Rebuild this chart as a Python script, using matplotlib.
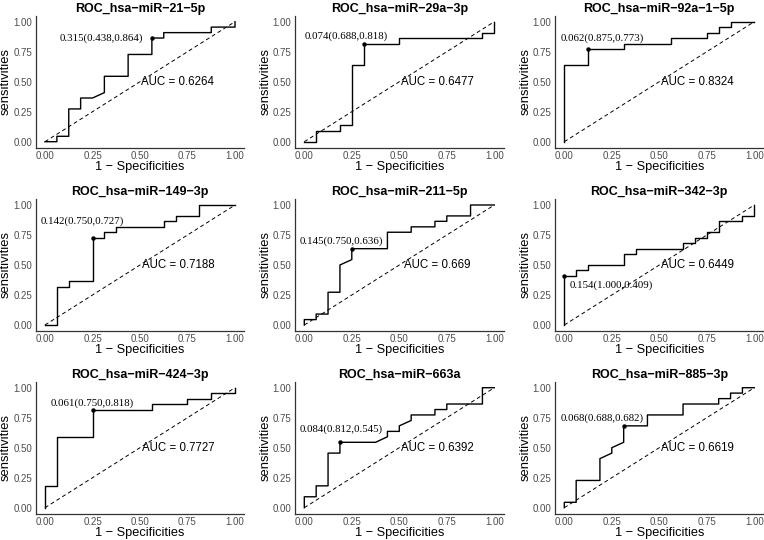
import matplotlib
matplotlib.use("Agg")
import matplotlib.pyplot as plt

plt.rcParams['font.family'] = ['Liberation Sans', 'DejaVu Sans']

titles = ["ROC_hsa−miR−21−5p", "ROC_hsa−miR−29a−3p", "ROC_hsa−miR−92a−1−5p",
          "ROC_hsa−miR−149−3p", "ROC_hsa−miR−211−5p", "ROC_hsa−miR−342−3p",
          "ROC_hsa−miR−424−3p", "ROC_hsa−miR−663a", "ROC_hsa−miR−885−3p"]
auc_text = ["0.6264", "0.6477", "0.8324", "0.7188", "0.669", "0.6449",
            "0.7727", "0.6392", "0.6619"]

# best threshold, specificity, sensitivity
thresholds = [0.315, 0.074, 0.062, 0.142, 0.145, 0.154, 0.061, 0.084, 0.068]
best_spec = [0.438, 0.688, 0.875, 0.750, 0.750, 1.000, 0.750, 0.812, 0.688]
best_sens = [0.864, 0.818, 0.773, 0.727, 0.636, 0.409, 0.818, 0.545, 0.682]

# ROC curves (1 - specificity, sensitivity)
fpr_21 = [0, 0.0625, 0.0625, 0.125, 0.125, 0.1875, 0.1875, 0.25, 0.3125, 0.3125,
          0.4375, 0.4375, 0.5625, 0.5625, 0.625, 0.625, 0.875, 0.875, 1, 1]
tpr_21 = [0, 0, 0.045, 0.045, 0.273, 0.273, 0.364, 0.364, 0.409, 0.545,
          0.545, 0.727, 0.727, 0.864, 0.864, 0.909, 0.909, 0.955, 0.955, 1]

fpr_29a = [0, 0.0625, 0.0625, 0.1875, 0.1875, 0.25, 0.25, 0.3125, 0.3125,
           0.5, 0.5, 0.9375, 0.9375, 1, 1]
tpr_29a = [0, 0, 0.091, 0.091, 0.136, 0.136, 0.636, 0.636, 0.818,
           0.818, 0.864, 0.864, 0.909, 0.909, 1]

fpr_92a = [0, 0, 0.125, 0.125, 0.3125, 0.3125, 0.5625, 0.5625, 0.75, 0.75,
           0.8125, 0.8125, 0.875, 0.875, 1]
tpr_92a = [0, 0.636, 0.636, 0.773, 0.773, 0.818, 0.818, 0.864, 0.864, 0.909,
           0.909, 0.955, 0.955, 1, 1]

fpr_149 = [0, 0.0625, 0.0625, 0.125, 0.125, 0.25, 0.25, 0.3125, 0.3125, 0.375,
           0.375, 0.625, 0.625, 0.6875, 0.6875, 0.8125, 0.8125, 1]
tpr_149 = [0, 0, 0.318, 0.318, 0.364, 0.364, 0.727, 0.727, 0.773, 0.773,
           0.818, 0.818, 0.864, 0.864, 0.909, 0.909, 1, 1]

fpr_211 = [0, 0, 0.0625, 0.0625, 0.125, 0.125, 0.1875, 0.1875, 0.25, 0.25, 0.4375,
           0.4375, 0.5625, 0.5625, 0.6875, 0.6875, 0.75, 0.75, 0.875, 0.875, 1]
tpr_211 = [0, 0.045, 0.045, 0.091, 0.091, 0.273, 0.273, 0.5, 0.545, 0.636, 0.636,
           0.773, 0.773, 0.818, 0.818, 0.864, 0.864, 0.909, 0.909, 1, 1]

fpr_342 = [0, 0, 0.0625, 0.0625, 0.125, 0.125, 0.3125, 0.3125, 0.375, 0.375, 0.625,
           0.625, 0.6875, 0.6875, 0.75, 0.75, 0.8125, 0.8125, 0.9375, 0.9375, 1, 1]
tpr_342 = [0, 0.409, 0.409, 0.455, 0.455, 0.5, 0.5, 0.591, 0.591, 0.636, 0.636,
           0.682, 0.682, 0.727, 0.727, 0.773, 0.773, 0.864, 0.864, 0.909, 0.909, 1]

fpr_424 = [0, 0, 0.0625, 0.0625, 0.25, 0.25, 0.5625, 0.5625, 0.75, 0.75,
           0.875, 0.875, 1, 1]
tpr_424 = [0, 0.182, 0.182, 0.591, 0.591, 0.818, 0.818, 0.864, 0.864, 0.909,
           0.909, 0.955, 0.955, 1]

fpr_663 = [0, 0, 0.0625, 0.0625, 0.125, 0.125, 0.1875, 0.1875, 0.375, 0.4375, 0.4375,
           0.5, 0.5, 0.5625, 0.5625, 0.6875, 0.6875, 0.75, 0.75, 0.9375, 0.9375, 1]
tpr_663 = [0, 0.091, 0.091, 0.182, 0.182, 0.455, 0.455, 0.545, 0.545, 0.591, 0.636,
           0.636, 0.682, 0.727, 0.773, 0.773, 0.818, 0.818, 0.864, 0.864, 1, 1]

fpr_885 = [0, 0, 0.0625, 0.0625, 0.1875, 0.1875, 0.25, 0.25, 0.3125, 0.3125, 0.4375,
           0.4375, 0.625, 0.625, 0.8125, 0.8125, 0.875, 0.875, 0.9375, 0.9375, 1]
tpr_885 = [0, 0.045, 0.045, 0.227, 0.227, 0.409, 0.455, 0.5, 0.545, 0.682, 0.682,
           0.773, 0.773, 0.864, 0.864, 0.909, 0.909, 0.955, 0.955, 1, 1]

curves = [(fpr_21, tpr_21), (fpr_29a, tpr_29a), (fpr_92a, tpr_92a),
          (fpr_149, tpr_149), (fpr_211, tpr_211), (fpr_342, tpr_342),
          (fpr_424, tpr_424), (fpr_663, tpr_663), (fpr_885, tpr_885)]

# label offsets from the best point, in pixels
label_off = [(-50, 0), (-17, 7), (14, 11), (-10, 17), (-10, 7),
             (47, -9), (0, 6), (1, 13), (-21, 8)]

W, H = 764, 540
fig = plt.figure(figsize=(W / 100, H / 100), dpi=100)

lefts = [35.5, 294.8, 554.8]
tops = [15.7, 199, 381.7]
pw, ph = 209, 132

for i in range(9):
    r, c = divmod(i, 3)
    ax = fig.add_axes([lefts[c] / W, 1 - (tops[r] + ph) / H, pw / W, ph / H])
    fpr, tpr = curves[i]
    ax.plot([0, 1], [0, 1], color='black', lw=0.7, dashes=(4, 3))
    ax.plot(fpr, tpr, color='black', lw=1.0)
    px, py = 1 - best_spec[i], best_sens[i]
    ax.plot(px, py, 'o', color='black', ms=2.2)
    ax.annotate(f"{thresholds[i]:.3f}({best_spec[i]:.3f},{best_sens[i]:.3f})",
                (px, py), xytext=label_off[i], textcoords='offset pixels',
                ha='center', va='center', fontsize=7.8,
                family=['Liberation Serif', 'DejaVu Serif'])
    ax.text(0.7, 0.5, f"AUC = {auc_text[i]}", ha='center', va='center', fontsize=8.3)

    ax.set_xlim(-0.05, 1.05)
    ax.set_ylim(-0.05, 1.05)
    ax.set_xticks([0, 0.25, 0.5, 0.75, 1])
    ax.set_yticks([0, 0.25, 0.5, 0.75, 1])
    ax.set_xticklabels(["0.00", "0.25", "0.50", "0.75", "1.00"])
    ax.set_yticklabels(["0.00", "0.25", "0.50", "0.75", "1.00"])
    ax.tick_params(length=0, labelsize=7, labelcolor='#4D4D4D', pad=2.5)
    for s in ['top', 'right']:
        ax.spines[s].set_visible(False)
    for s in ['left', 'bottom']:
        ax.spines[s].set_color('#333333')
        ax.spines[s].set_linewidth(0.9)
    ax.set_title(titles[i], fontsize=9, fontweight='bold', pad=3)
    ax.set_xlabel("1 − Specificities", fontsize=9.2, labelpad=0)
    ax.set_ylabel("sensitivities", fontsize=9.4, labelpad=1)

fig.savefig("out.png", dpi=100)
